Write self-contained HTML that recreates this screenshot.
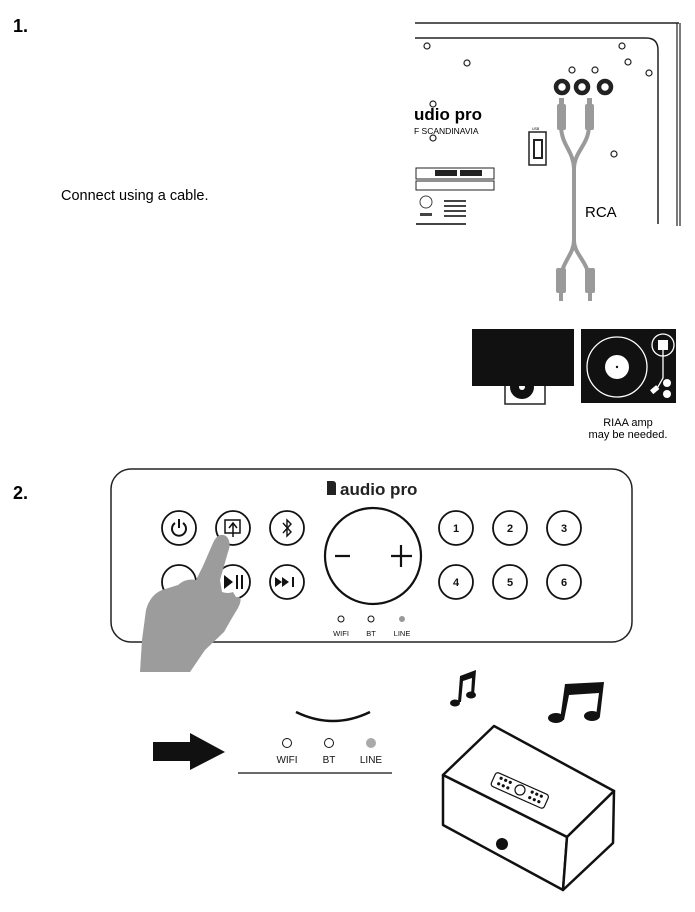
<!DOCTYPE html>
<html><head><meta charset="utf-8"><style>
html,body{margin:0;padding:0;background:#fff;}
svg{display:block;}
text{font-family:"Liberation Sans",sans-serif;}
</style></head><body>
<svg width="695" height="912" viewBox="0 0 695 912" xmlns="http://www.w3.org/2000/svg">
<text x="13" y="32" font-size="18" font-weight="bold">1.</text>
<text x="61" y="200" font-size="14.5">Connect using a cable.</text>

<!-- back panel -->
<g fill="none" stroke="#222">
<line x1="415" y1="23" x2="679" y2="23" stroke-width="1.5"/>
<line x1="677" y1="23" x2="677" y2="226" stroke-width="1.2"/>
<line x1="680" y1="23" x2="680" y2="226" stroke-width="1.2"/>
<path d="M415 38 H646 Q658 38 658 50 V224" stroke-width="1.5"/>
<g stroke-width="1.2">
<circle cx="427" cy="46" r="3"/><circle cx="622" cy="46" r="3"/>
<circle cx="467" cy="63" r="3"/><circle cx="628" cy="62" r="3"/>
<circle cx="649" cy="73" r="3"/><circle cx="433" cy="104" r="3"/>
<circle cx="433" cy="138" r="3"/><circle cx="614" cy="154" r="3"/>
<circle cx="572" cy="70" r="3"/><circle cx="595" cy="70" r="3"/>
</g>
<g stroke-width="4.5"><circle cx="562" cy="87" r="6"/><circle cx="582" cy="87" r="6"/><circle cx="605" cy="87" r="6"/></g>
<rect x="529" y="132" width="17" height="33" stroke-width="1.5"/>
<rect x="534" y="140" width="8" height="18" stroke-width="2"/>
<rect x="416" y="168" width="78" height="11" stroke-width="1"/>
<rect x="416" y="181" width="78" height="9" stroke-width="1"/>
</g>
<text x="414" y="120" font-size="17" font-weight="bold">udio pro</text>
<text x="414" y="134" font-size="8.5">F SCANDINAVIA</text>
<text x="532" y="130" font-size="3.5">USB</text>
<rect x="435" y="170" width="22" height="6" fill="#222"/><rect x="460" y="170" width="22" height="6" fill="#222"/>
<g fill="#444"><rect x="420" y="196" width="12" height="12" rx="6" fill="none" stroke="#444"/>
<rect x="444" y="200" width="22" height="2"/><rect x="444" y="205" width="22" height="2"/><rect x="444" y="210" width="22" height="2"/><rect x="444" y="215" width="22" height="2"/>
<rect x="420" y="213" width="12" height="3"/><rect x="416" y="223" width="50" height="2"/></g>

<!-- cable -->
<g fill="none" stroke="#9a9a9a" stroke-width="4" stroke-linecap="round">
<path d="M561 125 C561 145 573 150 574 168 V240 C574 255 561 262 561 280"/>
<path d="M589 125 C589 145 575 150 574 168"/>
<path d="M574 240 C574 255 589 262 589 280"/>
</g>
<g fill="#9a9a9a">
<rect x="557" y="104" width="9" height="26" rx="2"/><rect x="559" y="98" width="5" height="8"/>
<rect x="585" y="104" width="9" height="26" rx="2"/><rect x="587" y="98" width="5" height="8"/>
<rect x="556" y="268" width="10" height="25" rx="2"/><rect x="559" y="291" width="4" height="10"/>
<rect x="585" y="268" width="10" height="25" rx="2"/><rect x="588" y="291" width="4" height="10"/>
</g>
<text x="585" y="217" font-size="15">RCA</text>

<!-- devices -->
<rect x="505" y="384" width="40" height="20" fill="#fff" stroke="#222" stroke-width="1.5"/>
<circle cx="522" cy="387" r="12" fill="#111"/><circle cx="522" cy="387" r="3" fill="#fff"/>
<rect x="472" y="329" width="102" height="57" fill="#111"/>
<rect x="581" y="329" width="95" height="74" fill="#111"/>
<circle cx="617" cy="367" r="30" fill="none" stroke="#fff" stroke-width="1.3"/>
<circle cx="617" cy="367" r="12" fill="#fff"/><circle cx="617" cy="367" r="1.2" fill="#111"/>
<circle cx="663" cy="345" r="11" fill="none" stroke="#fff" stroke-width="1.3"/>
<rect x="658" y="340" width="10" height="10" fill="#fff"/>
<path d="M663 350 V378 L655 392" stroke="#fff" stroke-width="1.3" fill="none"/>
<rect x="651" y="387" width="8" height="5" fill="#fff" transform="rotate(-40 655 390)"/>
<circle cx="667" cy="383" r="4" fill="#fff"/><circle cx="667" cy="394" r="4" fill="#fff"/>
<text x="628" y="426" font-size="11" text-anchor="middle">RIAA amp</text>
<text x="628" y="438" font-size="11" text-anchor="middle">may be needed.</text>

<!-- section 2 -->
<text x="13" y="499" font-size="18" font-weight="bold">2.</text>
<rect x="111" y="469" width="521" height="173" rx="20" fill="none" stroke="#222" stroke-width="1.5"/>
<path d="M327 481 h6 a3 3 0 0 1 3 3 v11 h-9z" fill="#222"/>
<text x="340" y="495" font-size="17" font-weight="bold" fill="#222">audio pro</text>
<g fill="none" stroke="#111" stroke-width="1.8">
<circle cx="179" cy="528" r="17"/><circle cx="233" cy="528" r="17"/><circle cx="287" cy="528" r="17"/>
<circle cx="179" cy="582" r="17"/><circle cx="233" cy="582" r="17"/><circle cx="287" cy="582" r="17"/>
<circle cx="456" cy="528" r="17"/><circle cx="510" cy="528" r="17"/><circle cx="564" cy="528" r="17"/>
<circle cx="456" cy="582" r="17"/><circle cx="510" cy="582" r="17"/><circle cx="564" cy="582" r="17"/>
<circle cx="373" cy="556" r="48" stroke-width="2.2"/>
<path d="M175 523 A7 7 0 1 0 183 523 M179 519 V528" stroke-width="2"/>
<rect x="225" y="520" width="15" height="13" stroke-width="1.5"/>
<path d="M233 537 V524 M229 528 L233 523 L237 528" stroke-width="1.5"/>
<path d="M283 523 L291 532 L287 536 V520 L291 524 L283 533" stroke-width="1.4"/>
<path d="M335 556 h15 M391 556 h21 M401 545 v22" stroke-width="2.2"/>
<circle cx="341" cy="619" r="3" stroke-width="1"/><circle cx="371" cy="619" r="3" stroke-width="1"/>
</g>
<circle cx="402" cy="619" r="3" fill="#999"/>
<path d="M224 575 L233 582 L224 589Z" fill="#111"/><rect x="236" y="575" width="2" height="14" fill="#111"/><rect x="241" y="575" width="2" height="14" fill="#111"/>
<path d="M275 577 L282 582 L275 587Z M282 577 L289 582 L282 587Z" fill="#111"/><rect x="292" y="577" width="2" height="10" fill="#111"/>
<g font-size="11" font-weight="bold" text-anchor="middle" fill="#111">
<text x="456" y="532">1</text><text x="510" y="532">2</text><text x="564" y="532">3</text>
<text x="456" y="586">4</text><text x="510" y="586">5</text><text x="564" y="586">6</text></g>
<g font-size="7.5" text-anchor="middle" fill="#111"><text x="341" y="636">WIFI</text><text x="371" y="636">BT</text><text x="402" y="636">LINE</text></g>

<!-- hand -->
<path d="M140 672 L142 640 L146 610 Q150 595 162 590 L178 585 Q186 578 196 580 L203 566 L213 543 Q218 532 226 536 Q232 542 228 552 L220 580 L222 592 Q228 594 233 592 L236 597 Q244 596 238 608 L232 618 L224 632 L205 650 L190 672 Z" fill="#9c9c9c"/>

<!-- bottom row -->
<path d="M153 742 H190 V733 L225 752 L190 770 V761 H153 Z" fill="#111"/>
<path d="M296 712 Q333 730 370 712" fill="none" stroke="#111" stroke-width="2.5"/>
<circle cx="287" cy="743" r="4.5" fill="none" stroke="#111"/><circle cx="329" cy="743" r="4.5" fill="none" stroke="#111"/><circle cx="371" cy="743" r="5" fill="#aaa"/>
<g font-size="10" text-anchor="middle" fill="#111"><text x="287" y="763">WIFI</text><text x="329" y="763">BT</text><text x="371" y="763">LINE</text></g>
<line x1="238" y1="773" x2="392" y2="773" stroke="#111" stroke-width="1.2"/>

<!-- notes -->
<g fill="#111">
<path d="M460 676 L476 670 L474 695 L471 695 L472 678 L463 681 L461 702 L458 702 Z"/>
<ellipse cx="455" cy="703" rx="5" ry="3.5"/><ellipse cx="471" cy="695" rx="5" ry="3.5"/>
<path d="M565 684 L604 682 L600 716 L596 716 L599 693 L569 695 L564 720 L560 720 Z"/>
<ellipse cx="556" cy="718" rx="8" ry="5"/><ellipse cx="592" cy="716" rx="8" ry="5"/>
</g>
<!-- speaker -->
<g fill="#fff" stroke="#111" stroke-width="2.5" stroke-linejoin="round">
<path d="M443 775 L494 726 L614 791 L567 837 Z"/>
<path d="M443 775 L567 837 L563 890 L443 825 Z"/>
<path d="M567 837 L614 791 L613 843 L563 890 Z"/>
</g>
<rect x="491" y="783" width="58" height="15" rx="3" fill="none" stroke="#111" stroke-width="1.2" transform="rotate(24 520 790)"/>
<g fill="#111" transform="rotate(24 520 790)"><circle cx="498" cy="787" r="1.6"/><circle cx="503" cy="787" r="1.6"/><circle cx="508" cy="787" r="1.6"/><circle cx="498" cy="793" r="1.6"/><circle cx="503" cy="793" r="1.6"/><circle cx="508" cy="793" r="1.6"/><circle cx="532" cy="787" r="1.6"/><circle cx="537" cy="787" r="1.6"/><circle cx="542" cy="787" r="1.6"/><circle cx="532" cy="793" r="1.6"/><circle cx="537" cy="793" r="1.6"/><circle cx="542" cy="793" r="1.6"/></g>
<circle cx="520" cy="790" r="5" fill="none" stroke="#111" stroke-width="1.2"/>
<ellipse cx="502" cy="844" rx="6" ry="6" fill="#111"/>
</svg>
</body></html>
